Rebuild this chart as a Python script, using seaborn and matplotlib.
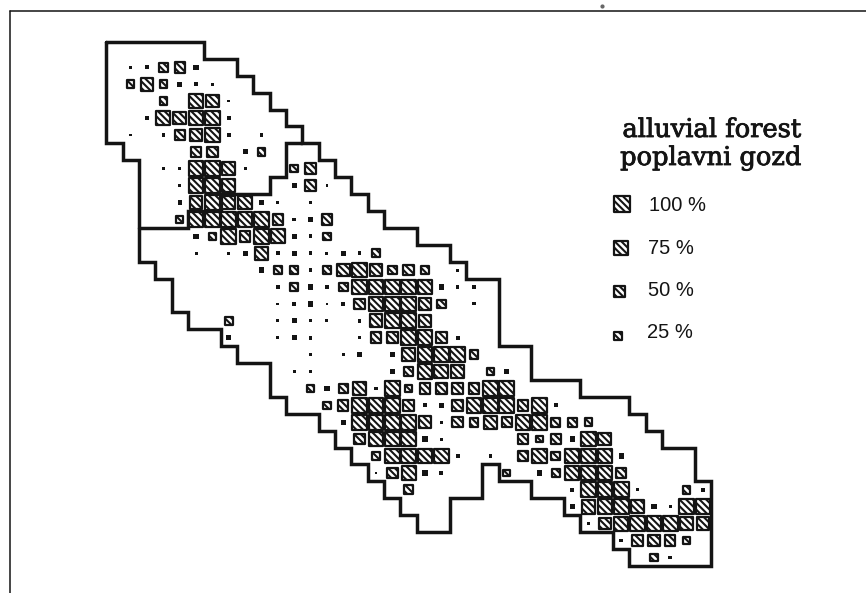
# Grid map of alluvial forest cover, one square per grid cell

import matplotlib
matplotlib.use('Agg')
import matplotlib.patheffects as pe
import matplotlib.pyplot as plt
import pandas as pd
import seaborn as sns

# cover in % per cell, {column: cover} for each grid row
row_00 = {0: 3, 1: 8, 2: 35, 3: 50, 4: 12}
row_01 = {0: 25, 1: 75, 2: 25, 3: 12, 4: 6, 5: 3}
row_02 = {2: 25, 4: 100, 5: 75, 6: 3}
row_03 = {1: 8, 2: 90, 3: 75, 4: 100, 5: 100, 6: 6}
row_04 = {0: 3, 2: 6, 3: 50, 4: 75, 5: 100, 6: 6, 8: 6}
row_05 = {4: 50, 5: 50, 7: 12, 8: 25}
row_06 = {2: 3, 3: 3, 4: 100, 5: 100, 6: 75, 7: 3, 10: 25, 11: 50}
row_07 = {3: 3, 4: 100, 5: 100, 6: 75, 10: 12, 11: 50, 12: 3}
row_08 = {3: 8, 4: 75, 5: 100, 6: 75, 7: 90, 8: 8, 9: 3, 11: 3}
row_09 = {3: 25, 4: 100, 5: 100, 6: 100, 7: 100, 8: 100, 9: 50, 10: 6, 11: 8, 12: 50}
row_10 = {4: 12, 5: 25, 6: 100, 7: 50, 8: 100, 9: 90, 10: 12, 11: 6, 12: 25}
row_11 = {4: 4, 6: 4, 7: 12, 8: 75, 9: 6, 10: 12, 11: 6, 12: 4, 13: 12, 14: 6, 15: 25}
row_12 = {8: 12, 9: 25, 10: 25, 11: 6, 12: 35, 13: 75, 14: 100, 15: 75, 16: 35, 17: 50, 18: 25, 20: 4}
row_13 = {9: 8, 10: 25, 11: 12, 12: 8, 13: 35, 14: 100, 15: 100, 16: 100, 17: 100, 18: 100, 19: 12, 20: 4, 21: 8}
row_14 = {9: 3, 10: 6, 11: 12, 12: 3, 13: 6, 14: 50, 15: 100, 16: 100, 17: 100, 18: 75, 19: 35, 21: 4}
row_15 = {6: 25, 9: 4, 10: 12, 11: 4, 12: 4, 14: 6, 15: 75, 16: 100, 17: 100, 18: 60}
row_16 = {6: 12, 9: 3, 10: 12, 11: 6, 14: 4, 15: 50, 16: 60, 17: 100, 18: 100, 19: 50, 20: 8}
row_17 = {11: 6, 13: 4, 14: 8, 16: 12, 17: 75, 18: 100, 19: 100, 20: 100, 21: 35}
row_18 = {10: 4, 11: 6, 16: 12, 17: 35, 18: 100, 19: 90, 20: 75, 22: 25, 23: 12}
row_19 = {11: 25, 12: 12, 13: 35, 14: 75, 15: 6, 16: 100, 17: 25, 18: 50, 19: 50, 20: 50, 21: 50, 22: 100, 23: 100}
row_20 = {12: 25, 13: 50, 14: 100, 15: 100, 16: 100, 17: 50, 18: 6, 19: 12, 20: 60, 21: 100, 22: 100, 23: 100, 24: 50, 25: 100, 26: 6}
row_21 = {13: 12, 14: 100, 15: 100, 16: 100, 17: 100, 18: 60, 19: 4, 20: 50, 21: 35, 22: 75, 23: 50, 24: 100, 25: 100, 26: 35, 27: 35, 28: 25}
row_22 = {14: 50, 15: 100, 16: 100, 17: 100, 18: 12, 19: 4, 24: 50, 25: 20, 26: 50, 27: 12, 28: 100, 29: 75}
row_23 = {15: 35, 16: 100, 17: 100, 18: 100, 19: 100, 20: 8, 22: 4, 24: 50, 25: 100, 26: 35, 27: 100, 28: 100, 29: 100, 30: 12}
row_24 = {15: 3, 16: 50, 17: 90, 18: 12, 19: 8, 23: 20, 25: 12, 26: 25, 27: 100, 28: 100, 29: 100, 30: 50}
row_25 = {17: 35, 27: 6, 28: 100, 29: 100, 30: 100, 31: 3, 34: 25, 35: 6}
row_26 = {27: 12, 28: 90, 29: 100, 30: 100, 31: 75, 32: 12, 33: 3, 34: 100, 35: 100}
row_27 = {28: 4, 29: 60, 30: 90, 31: 100, 32: 100, 33: 100, 34: 75, 35: 75}
row_28 = {30: 6, 31: 60, 32: 60, 33: 50, 34: 25}
row_29 = {32: 25, 33: 6}

# boundary of the area, in grid cell edges
outline_x = [-1, 5, 5, 7, 7, 8, 8, 9, 9, 10, 10, 11, 11, 12, 12, 13, 13, 14, 14, 15, 15, 16, 16, 18, 18, 20, 20,
             21, 21, 23, 23, 25, 25, 28, 28, 31, 31, 32, 32, 33, 33, 35, 35, 36, 36, 31, 31, 30, 30, 28, 28, 27, 27,
             25, 25, 23, 23, 22, 22, 20, 20, 18, 18, 17, 17, 16, 16, 15, 15, 14, 14, 13, 13, 12, 12, 10, 10, 9, 9,
             7, 7, 6, 6, 4, 4, 3, 3, 2, 2, 1, 1, 0, 0, -1, -1]
outline_y = [-1, -1, 0, 0, 1, 1, 2, 2, 3, 3, 4, 4, 5, 5, 6, 6, 7, 7, 8, 8, 9, 9, 10, 10, 11, 11, 12,
             12, 13, 13, 17, 17, 19, 19, 20, 20, 21, 21, 22, 22, 23, 23, 25, 25, 30, 30, 29, 29, 28, 28, 27, 27, 26,
             26, 25, 25, 24, 24, 26, 26, 28, 28, 27, 27, 26, 26, 25, 25, 24, 24, 23, 23, 22, 22, 21, 21, 20, 20, 18,
             18, 17, 17, 16, 16, 15, 15, 13, 13, 12, 12, 6, 6, 5, 5, -1]
divider_x = [11, 10, 10, 9, 9, 6, 6, 4, 4, 1]
divider_y = [5, 5, 7, 7, 8, 8, 9, 9, 10, 10]

# legend
legend_title = ['alluvial forest', 'poplavni gozd']
legend_cover = [100, 75, 50, 25]
legend_labels = ['100 %', '75 %', '50 %', '25 %']

WIDTH, HEIGHT = 866, 593
COL_PX, COL_STEP = 130.7, 16.35
ROW_PX, ROW_STEP = 67.3, 16.9
INK = '#141414'
HATCH = '\\' * 5

def col_at(px):
    # Pixel x to grid column
    return (px - COL_PX) / COL_STEP

def row_at(py):
    # Pixel y to grid row
    return (py - ROW_PX) / ROW_STEP

rows = [row_00, row_01, row_02, row_03, row_04, row_05, row_06, row_07, row_08, row_09,
        row_10, row_11, row_12, row_13, row_14, row_15, row_16, row_17, row_18, row_19,
        row_20, row_21, row_22, row_23, row_24, row_25, row_26, row_27, row_28, row_29]
cells = pd.DataFrame([(c, r, v) for r, row in enumerate(rows) for c, v in row.items()],
                     columns=['col', 'row', 'cover'])

sns.set_theme(style='white')
plt.rcParams['hatch.linewidth'] = 1.5
plt.rcParams['font.family'] = ['Liberation Sans', 'DejaVu Sans']

fig = plt.figure(figsize=(WIDTH / 100, HEIGHT / 100), dpi=100)
ax = fig.add_axes([0, 0, 1, 1])
ax.set_xlim(col_at(0), col_at(WIDTH))
ax.set_ylim(row_at(HEIGHT), row_at(0))
ax.axis('off')

# Page frame and the speck above it from the scan
ax.plot([col_at(10), col_at(10)], [row_at(HEIGHT), row_at(11)], color=INK, lw=1.1, zorder=1)
ax.plot([col_at(10), col_at(WIDTH)], [row_at(11), row_at(11)], color=INK, lw=1.1, zorder=1)
ax.plot([col_at(602)], [row_at(6)], marker='o', ms=2.0, color='#666666', zorder=1)

# Area boundary
for xs, ys in [(outline_x, outline_y), (divider_x, divider_y)]:
    sns.lineplot(x=[v - 0.5 for v in xs], y=[v - 0.5 for v in ys], sort=False, estimator=None,
                 color=INK, linewidth=2.5, solid_joinstyle='miter', zorder=2, ax=ax)

# Cells: squares from 20 % up are hatched, smaller ones print as solid dots
size_args = dict(size='cover', sizes=(4, 112), size_norm=(3, 100), marker='s', legend=False, ax=ax)
sns.scatterplot(data=cells[cells['cover'] < 20], x='col', y='row', color=INK, linewidth=0, zorder=3, **size_args)
sns.scatterplot(data=cells[cells['cover'] >= 20], x='col', y='row', color='white', edgecolor=INK,
                linewidth=1.6, hatch=HATCH, zorder=3, **size_args)

# Legend keys
key_px_x = [622.3, 620.7, 619.3, 617.7]
key_px_y = [204.3, 247.7, 291.7, 335.7]
sns.scatterplot(x=[col_at(v) for v in key_px_x], y=[row_at(v) for v in key_px_y], size=legend_cover,
                sizes=(30, 132), size_norm=(25, 100), marker='s', color='white', edgecolor=INK,
                linewidth=1.6, hatch=HATCH, legend=False, zorder=3, ax=ax)

label_px_x = [649, 648, 647.5, 647]
label_px_y = [206, 248, 291, 333]
for label, px, py in zip(legend_labels, label_px_x, label_px_y):
    ax.text(col_at(px), row_at(py), label, fontsize=14.5, color=INK, ha='left', va='center')

# Slight stroke to get the heavier weight of the printed title
heavy = [pe.withStroke(linewidth=0.6, foreground=INK)]
ax.text(col_at(712), row_at(137), legend_title[0], family='DejaVu Serif', fontsize=18.5, color=INK,
        ha='center', va='baseline', path_effects=heavy)
ax.text(col_at(711), row_at(165), legend_title[1], family='DejaVu Serif', fontsize=18.5, color=INK,
        ha='center', va='baseline', path_effects=heavy)

fig.savefig('out.png', dpi=100, facecolor='white')
